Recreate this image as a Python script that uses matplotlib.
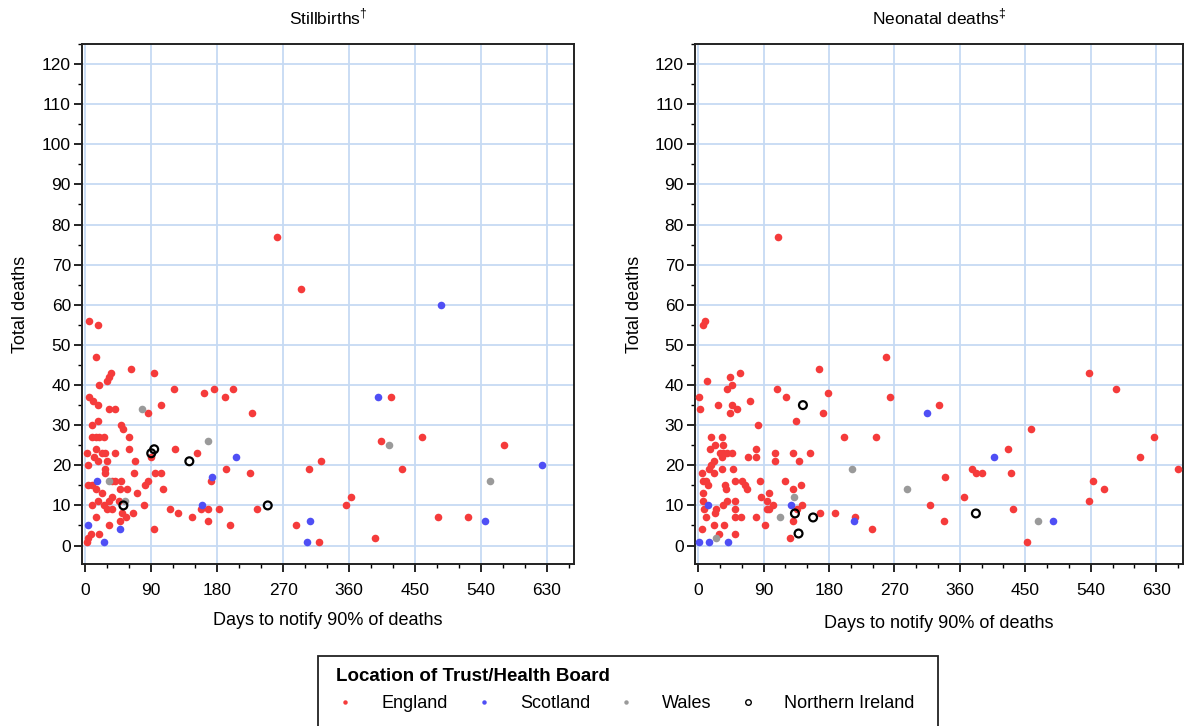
import matplotlib
matplotlib.use("Agg")
import matplotlib.pyplot as plt
from matplotlib.lines import Line2D
from matplotlib.patches import Rectangle
from matplotlib.ticker import MultipleLocator

plt.rcParams['font.family'] = ['Liberation Sans', 'DejaVu Sans']
plt.rcParams['mathtext.fontset'] = 'custom'
plt.rcParams['mathtext.rm'] = 'Liberation Sans'

# ---- Stillbirths: (days to notify 90% of deaths, total deaths)
sb_england_days = [5, 18, 15, 63, 94, 35, 33, 30, 19, 121, 162, 175, 201, 191, 5, 11, 18, 33, 40, 104,
                   85, 227, 9, 18, 49, 52, 9, 15, 19, 25, 60, 15, 60, 2, 12, 23, 27, 40, 17, 29,
                   4, 68, 122, 152, 89, 27, 27, 66, 95, 104, 192, 225, 4, 9, 15, 23, 37, 40, 49, 48,
                   57, 86, 82, 106, 71, 36, 32, 171, 17, 9, 25, 30, 37, 46, 50, 55, 65, 80, 116, 127,
                   146, 158, 167, 183, 168, 197, 234, 94, 14, 33, 19, 48, 8, 4, 2, 261, 294, 417, 403, 459,
                   572, 322, 305, 432, 362, 356, 287, 319, 396, 481, 523]
sb_england_deaths = [56, 55, 47, 44, 43, 43, 42, 41, 40, 39, 38, 39, 39, 37, 37, 36, 35, 34, 34, 35,
                     33, 33, 30, 31, 30, 29, 27, 27, 27, 27, 27, 24, 24, 23, 22, 23, 23, 23, 21, 21,
                     20, 21, 24, 23, 22, 19, 18, 18, 18, 18, 19, 18, 15, 15, 14, 13, 16, 16, 16, 14,
                     14, 16, 15, 14, 13, 12, 11, 16, 11, 10, 10, 9, 9, 11, 8, 7, 8, 10, 9, 8,
                     7, 9, 9, 9, 6, 5, 9, 4, 7, 5, 3, 6, 3, 2, 1, 77, 64, 37, 26, 27,
                     25, 21, 19, 19, 12, 10, 5, 1, 2, 7, 7]
sb_scotland_days = [16, 206, 173, 159, 4, 47, 26, 485, 400, 623, 307, 302, 545]
sb_scotland_deaths = [16, 22, 17, 10, 5, 4, 1, 60, 37, 20, 6, 1, 6]
sb_wales_days = [78, 168, 33, 54, 414, 552]
sb_wales_deaths = [34, 26, 16, 11, 25, 16]
sb_ni_days = [94, 90, 142, 52, 249]
sb_ni_deaths = [24, 23, 21, 10, 10]

# ---- Neonatal deaths
nn_england_days = [9, 7, 12, 43, 57, 46, 40, 1, 27, 46, 53, 43, 3, 71, 109, 121, 166, 179, 171, 134,
                   82, 258, 264, 200, 245, 17, 33, 23, 16, 34, 30, 34, 39, 46, 33, 80, 68, 79, 105, 105,
                   130, 138, 154, 22, 18, 15, 33, 48, 5, 22, 7, 11, 13, 7, 37, 38, 51, 60, 64, 67,
                   85, 119, 142, 131, 98, 87, 95, 6, 34, 40, 51, 25, 23, 8, 11, 51, 51, 59, 79, 95,
                   98, 103, 136, 143, 168, 188, 215, 239, 131, 126, 92, 22, 36, 29, 51, 5, 110, 538, 575, 331,
                   458, 426, 627, 608, 660, 376, 382, 390, 431, 340, 543, 558, 366, 537, 319, 433, 338, 452]
nn_england_deaths = [56, 55, 41, 42, 43, 40, 39, 37, 35, 35, 34, 33, 34, 36, 39, 37, 44, 38, 33, 31,
                     30, 47, 37, 27, 27, 27, 27, 25, 24, 25, 23, 23, 23, 23, 22, 24, 22, 22, 23, 21,
                     23, 21, 23, 21, 20, 19, 19, 19, 18, 18, 16, 16, 15, 13, 15, 14, 16, 16, 15, 14,
                     16, 16, 15, 14, 13, 12, 11, 11, 10, 11, 11, 9, 8, 9, 7, 9, 7, 7, 7, 9,
                     9, 10, 9, 10, 8, 8, 7, 4, 6, 2, 5, 5, 5, 3, 3, 4, 77, 43, 39, 35,
                     29, 24, 27, 22, 19, 19, 18, 18, 18, 17, 16, 14, 12, 11, 10, 9, 6, 1]
nn_scotland_days = [14, 128, 214, 1, 15, 41, 315, 407, 488]
nn_scotland_deaths = [10, 10, 6, 1, 1, 1, 33, 22, 6]
nn_wales_days = [132, 112, 25, 211, 287, 467]
nn_wales_deaths = [12, 7, 2, 19, 14, 6]
nn_ni_days = [144, 133, 158, 138, 382]
nn_ni_deaths = [35, 8, 7, 3, 8]

countries = ['England', 'Scotland', 'Wales', 'Northern Ireland']
red = '#f53b3b'
blue = '#4f4ff5'
grey = '#9a9a9a'
grid_col = '#c6daf3'

fig = plt.figure(figsize=(11.87, 7.26), dpi=100)
W, H = 1187, 726
ax1 = fig.add_axes([82 / W, 1 - 564 / H, 492 / W, 520 / H])
ax2 = fig.add_axes([695 / W, 1 - 564 / H, 488 / W, 520 / H])


def panel(ax, title, eng, sco, wal, ni, xlab_y):
    ax.scatter(eng[0], eng[1], s=30, color=red, linewidths=0, zorder=3)
    ax.scatter(sco[0], sco[1], s=30, color=blue, linewidths=0, zorder=3)
    ax.scatter(wal[0], wal[1], s=30, color=grey, linewidths=0, zorder=3)
    ax.scatter(ni[0], ni[1], s=32, facecolors='none', edgecolors='black', linewidths=1.6, zorder=4)
    ax.set_xlim(-4.5, 667)
    ax.set_ylim(-4.6, 125)
    ax.xaxis.set_major_locator(MultipleLocator(90))
    ax.xaxis.set_minor_locator(MultipleLocator(30))
    ax.yaxis.set_major_locator(MultipleLocator(10))
    ax.yaxis.set_minor_locator(MultipleLocator(5))
    ax.grid(True, which='major', color=grid_col, linewidth=1.3, zorder=0)
    ax.set_axisbelow(True)
    ax.tick_params(which='major', direction='out', length=5.5, width=1.2, labelsize=12.5)
    ax.tick_params(which='minor', direction='out', length=3, width=1.0)
    ax.tick_params(axis='x', which='major', pad=8)
    ax.tick_params(axis='y', which='major', pad=2.5)
    for sp in ax.spines.values():
        sp.set_linewidth(1.4)
        sp.set_color('#222222')
    ax.set_title(title, fontsize=12.5, pad=14)
    ax.set_xlabel('Days to notify 90% of deaths', fontsize=13)
    ax.set_ylabel('Total deaths', fontsize=13)
    ax.xaxis.set_label_coords(0.5, xlab_y)
    ax.yaxis.set_label_coords(-0.107, 0.5)


panel(ax1, 'Stillbirths$^{\u2020}$', (sb_england_days, sb_england_deaths),
      (sb_scotland_days, sb_scotland_deaths), (sb_wales_days, sb_wales_deaths),
      (sb_ni_days, sb_ni_deaths), -0.092)
panel(ax2, 'Neonatal deaths$^{\u2021}$', (nn_england_days, nn_england_deaths),
      (nn_scotland_days, nn_scotland_deaths), (nn_wales_days, nn_wales_deaths),
      (nn_ni_days, nn_ni_deaths), -0.099)

# legend box (extends past bottom edge)
fig.patches.append(Rectangle((318 / W, -0.1), 620 / W, 0.1 + (1 - 656 / H), transform=fig.transFigure,
                             fill=False, edgecolor='#222222', linewidth=1.3))
handles = [
    Line2D([], [], linestyle='none', marker='o', markersize=3.2, color=red, markeredgewidth=0),
    Line2D([], [], linestyle='none', marker='o', markersize=3.2, color=blue, markeredgewidth=0),
    Line2D([], [], linestyle='none', marker='o', markersize=3.2, color=grey, markeredgewidth=0),
    Line2D([], [], linestyle='none', marker='o', markersize=4, markerfacecolor='none',
           markeredgecolor='black', markeredgewidth=1.0),
]
leg = fig.legend(handles, countries, ncol=4, loc='upper left', bbox_to_anchor=(336 / W, 1 - 668 / H),
                 frameon=False, fontsize=13, title='Location of Trust/Health Board',
                 title_fontproperties={'weight': 'bold', 'size': 13.5}, alignment='left',
                 handlelength=1.0, handletextpad=1.5, columnspacing=1.5, borderpad=0, borderaxespad=0,
                 labelspacing=0.55)

fig.savefig('out.png', dpi=100)
